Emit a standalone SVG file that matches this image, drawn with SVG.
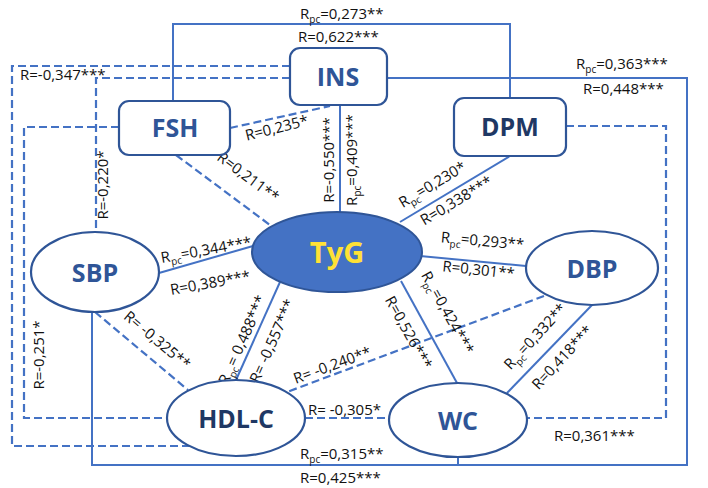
<svg xmlns="http://www.w3.org/2000/svg" width="708" height="488" viewBox="0 0 708 488">
<style>
.s{fill:none;stroke:#4472C4;stroke-width:2}
.d{fill:none;stroke:#4472C4;stroke-width:2.2;stroke-dasharray:8,4}
.n{fill:#fff;stroke:#2F5597;stroke-width:2.2}
.t{font-family:"Open Sans","Liberation Sans",sans-serif;font-weight:bold;font-size:25px;fill:#2F5597;text-anchor:middle}
.l{font-family:"Open Sans","Liberation Sans",sans-serif;font-size:15px;fill:#111}
.c{text-anchor:middle}
.sub{font-size:10px}
</style>
<rect width="708" height="488" fill="#fff"/>
<g id="connectors">
<polyline class="s" points="173,101 173,24 510,24 510,98"/>
<polyline class="s" points="387,78 687,78 687,465 92,465 92,311"/>
<line class="s" x1="458" y1="457" x2="458" y2="465"/>
<polyline class="d" points="290,66 12,66 12,446 192,446"/>
<polyline class="d" points="290,78 96,78 96,232"/>
<polyline class="d" points="119,127 24,127 24,418 167,418"/>
<polyline class="d" points="566,126 666,126 666,418 527,418"/>
<line class="d" x1="230" y1="128" x2="330" y2="106"/>
<line class="d" x1="176" y1="155" x2="270" y2="225"/>
<line class="s" x1="340" y1="106" x2="340" y2="212"/>
<line class="s" x1="510" y1="156" x2="400" y2="222"/>
<line class="s" x1="253" y1="246" x2="159" y2="273"/>
<line class="s" x1="420" y1="256" x2="526" y2="266"/>
<line class="s" x1="280" y1="282" x2="236" y2="380"/>
<line class="s" x1="401" y1="281" x2="457" y2="383"/>
<line class="d" x1="544" y1="296" x2="287" y2="392"/>
<line class="s" x1="592" y1="305" x2="507" y2="393"/>
<line class="d" x1="95" y1="312" x2="188" y2="390"/>
<line class="d" x1="305" y1="418" x2="389" y2="418"/>
</g>
<g id="labels" class="l">
<text x="300" y="19">R<tspan class="sub" dy="4">pc</tspan><tspan dy="-4">=0,273**</tspan></text>
<text x="298" y="42">R=0,622***</text>
<text x="576" y="69">R<tspan class="sub" dy="4">pc</tspan><tspan dy="-4">=0,363***</tspan></text>
<text x="583" y="94">R=0,448***</text>
<text x="20" y="80">R=-0,347***</text>
<text class="c" transform="translate(108,185) rotate(-90)">R=-0,220*</text>
<text class="c" transform="translate(44,355) rotate(-90)">R=-0,251*</text>
<text class="c" transform="translate(278,133) rotate(-14)">R=0,235*</text>
<text class="c" transform="translate(245,181) rotate(37)">R=0,211**</text>
<text class="c" transform="translate(334,160) rotate(-90)">R=-0,550***</text>
<text class="c" transform="translate(357,160) rotate(-90)">R<tspan class="sub" dy="4">pc</tspan><tspan dy="-4">=0,409***</tspan></text>
<text class="c" transform="translate(435,189) rotate(-31)">R<tspan class="sub" dy="4">pc</tspan><tspan dy="-4">=0,230*</tspan></text>
<text class="c" transform="translate(459,205) rotate(-31)">R=0,338***</text>
<text class="c" transform="translate(207,255) rotate(-10)">R<tspan class="sub" dy="4">pc</tspan><tspan dy="-4">=0,344***</tspan></text>
<text class="c" transform="translate(211,288) rotate(-10)">R=0,389***</text>
<text class="c" transform="translate(482,246) rotate(5)">R<tspan class="sub" dy="4">pc</tspan><tspan dy="-4">=0,293**</tspan></text>
<text class="c" transform="translate(478,275) rotate(6)">R=0,301**</text>
<text class="c" transform="translate(247,342) rotate(-66)">R<tspan class="sub" dy="4">pc</tspan><tspan dy="-4">= 0,488***</tspan></text>
<text class="c" transform="translate(277,343) rotate(-66)">R= -0,557***</text>
<text class="c" transform="translate(404,335) rotate(61)">R=0,526***</text>
<text class="c" transform="translate(443,315) rotate(61)">R<tspan class="sub" dy="4">pc</tspan><tspan dy="-4">=0,424***</tspan></text>
<text class="c" transform="translate(539,340) rotate(-47)">R<tspan class="sub" dy="4">pc</tspan><tspan dy="-4">=0,332**</tspan></text>
<text class="c" transform="translate(566,361) rotate(-47)">R=0,418***</text>
<text class="c" transform="translate(334,370) rotate(-20)">R= -0,240**</text>
<text class="c" transform="translate(154,344) rotate(40)">R= -0,325**</text>
<text x="308" y="415">R= -0,305*</text>
<text x="300" y="459">R<tspan class="sub" dy="4">pc</tspan><tspan dy="-4">=0,315**</tspan></text>
<text x="300" y="483">R=0,425***</text>
<text x="554" y="441">R=0,361***</text>
</g>
<g id="INS"><rect class="n" x="290" y="48" width="97" height="57" rx="10"/><text class="t" x="338" y="86">INS</text></g>
<g id="FSH"><rect class="n" x="119" y="101" width="111" height="54" rx="10"/><text class="t" x="175" y="137">FSH</text></g>
<g id="DPM"><rect class="n" x="454" y="98" width="112" height="58" rx="10"/><text class="t" x="510" y="136" style="fill:#1F3864">DPM</text></g>
<g id="TyG"><ellipse cx="337" cy="252" rx="85" ry="40" fill="#4472C4" stroke="#2F5597" stroke-width="2"/><text class="t" x="337" y="263" style="fill:#FFE135;font-size:29px">TyG</text></g>
<g id="SBP"><ellipse class="n" cx="95" cy="272" rx="64" ry="40"/><text class="t" x="95" y="282">SBP</text></g>
<g id="DBP"><ellipse class="n" cx="592" cy="268" rx="66" ry="37"/><text class="t" x="592" y="278">DBP</text></g>
<g id="HDL-C"><ellipse class="n" cx="236" cy="418" rx="69" ry="38"/><text class="t" x="236" y="428" style="fill:#1F3864">HDL-C</text></g>
<g id="WC"><ellipse class="n" cx="458" cy="420" rx="69" ry="37"/><text class="t" x="458" y="430">WC</text></g>
</svg>
